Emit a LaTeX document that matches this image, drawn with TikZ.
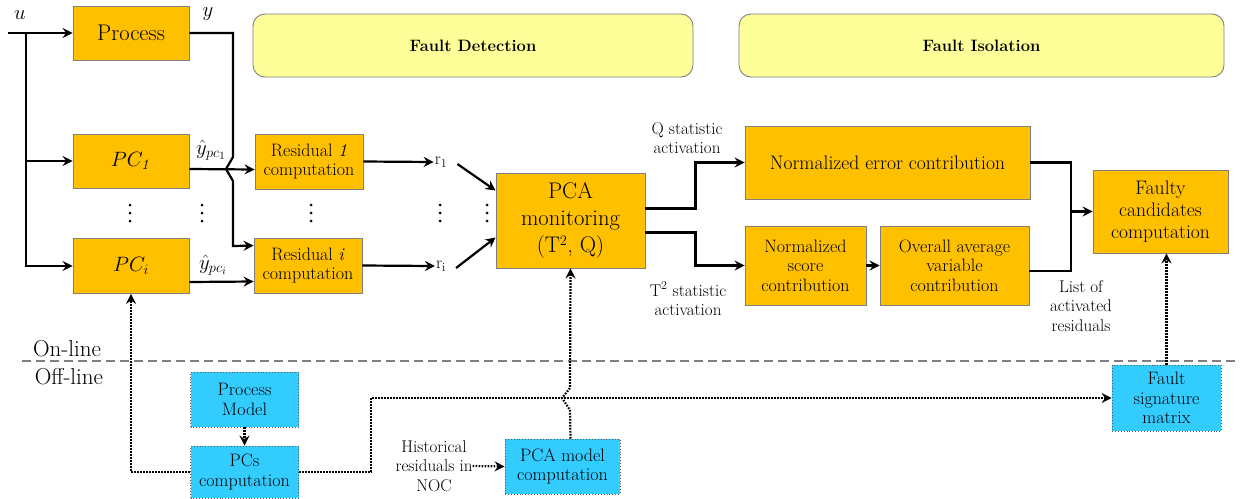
\documentclass[tikz,border=0pt]{standalone}
\usetikzlibrary{arrows.meta,calc}
\definecolor{borange}{HTML}{FFC000}
\definecolor{bcyan}{HTML}{33CCFF}
\definecolor{byellow}{HTML}{FFFF99}
\definecolor{bgray}{HTML}{7F7F7F}
\newcommand\fszA{\fontsize{22.6}{27}\selectfont}
\newcommand\fszB{\fontsize{19.6}{22}\selectfont}
\newcommand\fszC{\fontsize{18}{19.5}\selectfont}
\newcommand\fszD{\fontsize{17}{19.5}\selectfont}
\newcommand\fszE{\fontsize{23}{27}\selectfont}
\newcommand\fszF{\fontsize{16.5}{19}\selectfont}
\tikzset{
  obox/.style={draw=bgray,fill=borange,line width=0.9pt,align=center,inner sep=0pt},
  cbox/.style={draw=black!65,fill=bcyan,line width=0.9pt,dotted,align=center,inner sep=0pt,font=\fszC},
  banner/.style={draw=bgray,fill=byellow,line width=0.9pt,rounded corners=12pt,align=center,font=\fszF\bfseries},
  lbl/.style={align=center,inner sep=0pt,font=\fszD},
  wire/.style={line width=2.2pt,line join=miter},
  arr/.style={wire,-{Stealth[length=10pt,width=10pt,inset=3.5pt]}},
  dotwire/.style={line width=2.2pt,dash pattern=on 1.6pt off 1.4pt},
  dotarr/.style={dotwire,-{Stealth[length=10pt,width=10pt,inset=3.5pt]}},
  dashline/.style={draw=bgray,line width=1.1pt,dash pattern=on 9pt off 5pt},
}
\begin{document}
\begin{tikzpicture}[x=1pt,y=-1pt]
\useasboundingbox (0,0) rectangle (1241,498);
% banners
\node[banner,minimum width=440pt,minimum height=63pt] (fd) at (473,45.5) {Fault Detection};
\node[banner,minimum width=485pt,minimum height=63pt] (fi) at (981.5,45.5) {Fault Isolation};
% on-line boxes
\node[obox,font=\fszA,minimum width=116pt,minimum height=54pt] (proc) at (131,33) {Process};
\node[obox,font=\fszA,minimum width=116pt,minimum height=54pt] (pc1) at (131,161) {$PC_{\mathit{1}}$};
\node[obox,font=\fszA,minimum width=116pt,minimum height=55pt] (pci) at (131,266) {$PC_{i}$};
\node[obox,font=\fszC,minimum width=108pt,minimum height=55pt] (res1) at (309,161.5) {Residual \textit{1}\\computation};
\node[obox,font=\fszC,minimum width=108pt,minimum height=55pt] (resi) at (308,265.5) {Residual \textit{i}\\computation};
\node[obox,font=\fszA,minimum width=149pt,minimum height=95pt] (pca) at (570.5,220.5) {PCA\\monitoring\\(T$^2$, Q)};
\node[obox,font=\fszB,minimum width=285pt,minimum height=73pt] (nerr) at (887.5,162.5) {Normalized error contribution};
\node[obox,font=\fszC,minimum width=121pt,minimum height=79pt] (nsc) at (805.5,265.5) {Normalized\\score\\contribution};
\node[obox,font=\fszC,minimum width=149pt,minimum height=79pt] (oav) at (954.5,265.5) {Overall average\\variable\\contribution};
\node[obox,font=\fszB,minimum width=135pt,minimum height=83pt] (fc) at (1160.5,211.5) {Faulty\\candidates\\computation};
% off-line boxes
\node[cbox,minimum width=108pt,minimum height=55pt] (pm) at (244.5,399.5) {Process\\Model};
\node[cbox,minimum width=108pt,minimum height=52pt] (pcs) at (244.5,472) {PCs\\computation};
\node[cbox,minimum width=115pt,minimum height=55pt] (pcam) at (562.5,466.5) {PCA model\\computation};
\node[cbox,minimum width=109pt,minimum height=66pt] (fsm) at (1166.5,398) {Fault\\signature\\matrix};
% labels
\node[inner sep=0pt,font=\fszA] (ul) at (20,15) {$u$};
\node[inner sep=0pt,font=\fszA] (yl) at (208,14) {$y$};
\node[inner sep=0pt,font=\fszA] (yh1) at (211,150) {$\hat{y}_{pc_1}$};
\node[inner sep=0pt,font=\fszA] (yhi) at (213,265) {$\hat{y}_{pc_i}$};
\node[inner sep=1pt,font=\fszD] (r1) at (441,162) {r$_1$};
\node[inner sep=1pt,font=\fszD] (ri) at (441,266) {r$_\mathrm{i}$};
\node[lbl] (ql) at (687,138) {Q statistic\\activation};
\node[lbl] (tl) at (688,299) {T$^2$ statistic\\activation};
\node[lbl] (ll) at (1081,306) {List of\\activated\\residuals};
\node[lbl] (hl) at (434,466) {Historical\\residuals in\\NOC};
\node[inner sep=0pt,font=\fszE,anchor=center] (onl) at (67,349) {On-line};
\node[inner sep=0pt,font=\fszE,anchor=center] (offl) at (69,377) {Off-line};
% vertical dots
\foreach \xx in {130,202,311,440,487}{
  \foreach \yy in {205,213,221}{ \fill (\xx,\yy) circle (1.5pt); }
}
% dashed separator
\coordinate (dl) at (22,361);
\coordinate (dr) at (1239,361);
\draw[dashline] (dl) -- (dr);
% input u
\coordinate (uin) at (8,33);
\coordinate (ub) at (26,33);
\draw[arr] (uin) -- (proc.west);
\draw[arr] (ub) |- (pc1.west);
\draw[arr] (ub) |- (pci.west);
% y to residual i with jump
\coordinate (yc) at (233,33);
\draw[arr] (proc.east) -- (yc) -- (233,157) -- (226,169) -- (233,181) -- (233,246) -- ($(resi.north west)+(0,8)$);
% PC outputs
\draw[arr] ($(pc1.east)+(0,8)$) -- ($(res1.west)+(0,8)$);
\draw[arr] ($(pci.east)+(0,16)$) -- ($(resi.west)+(0,16)$);
% residuals to r
\draw[arr] (res1.east) -- (r1.west);
\draw[arr] (resi.east) -- (ri.west);
\draw[arr] ($(r1.east)+(9,2)$) -- ($(pca.west)+(0,-30)$);
\draw[arr] ($(ri.east)+(9,2)$) -- ($(pca.west)+(0,17)$);
% PCA to isolation
\draw[arr] ($(pca.east)+(0,-12)$) -- ++(50,0) |- (nerr.west);
\draw[arr] ($(pca.east)+(0,12)$) -- ++(50,0) |- (nsc.west);
\draw[arr] (nsc.east) -- (oav.west);
\coordinate (jt) at (1071,162.5);
\coordinate (jb) at (1071,271);
\draw[wire] (nerr.east) -- (jt) -- (jb) -- ($(oav.east)+(0,5.5)$);
\draw[arr] (jt |- fc.west) -- (fc.west);
% off-line dotted connectors
\draw[dotarr] (pm.south) -- (pcs.north);
\draw[dotarr] (pcs.west) -| (pci.south);
\draw[dotarr] (pcs.east) -- ++(72,0) |- (fsm.west);
\draw[dotarr] (pca.south |- pcam.north) -- (570,410) -- (562,398) -- (570,388) -- (pca.south);
\draw[dotarr] (hl.east) -- (pcam.west);
\draw[dotarr] (fsm.north) -- (fsm.north |- fc.south);
\end{tikzpicture}
\end{document}
